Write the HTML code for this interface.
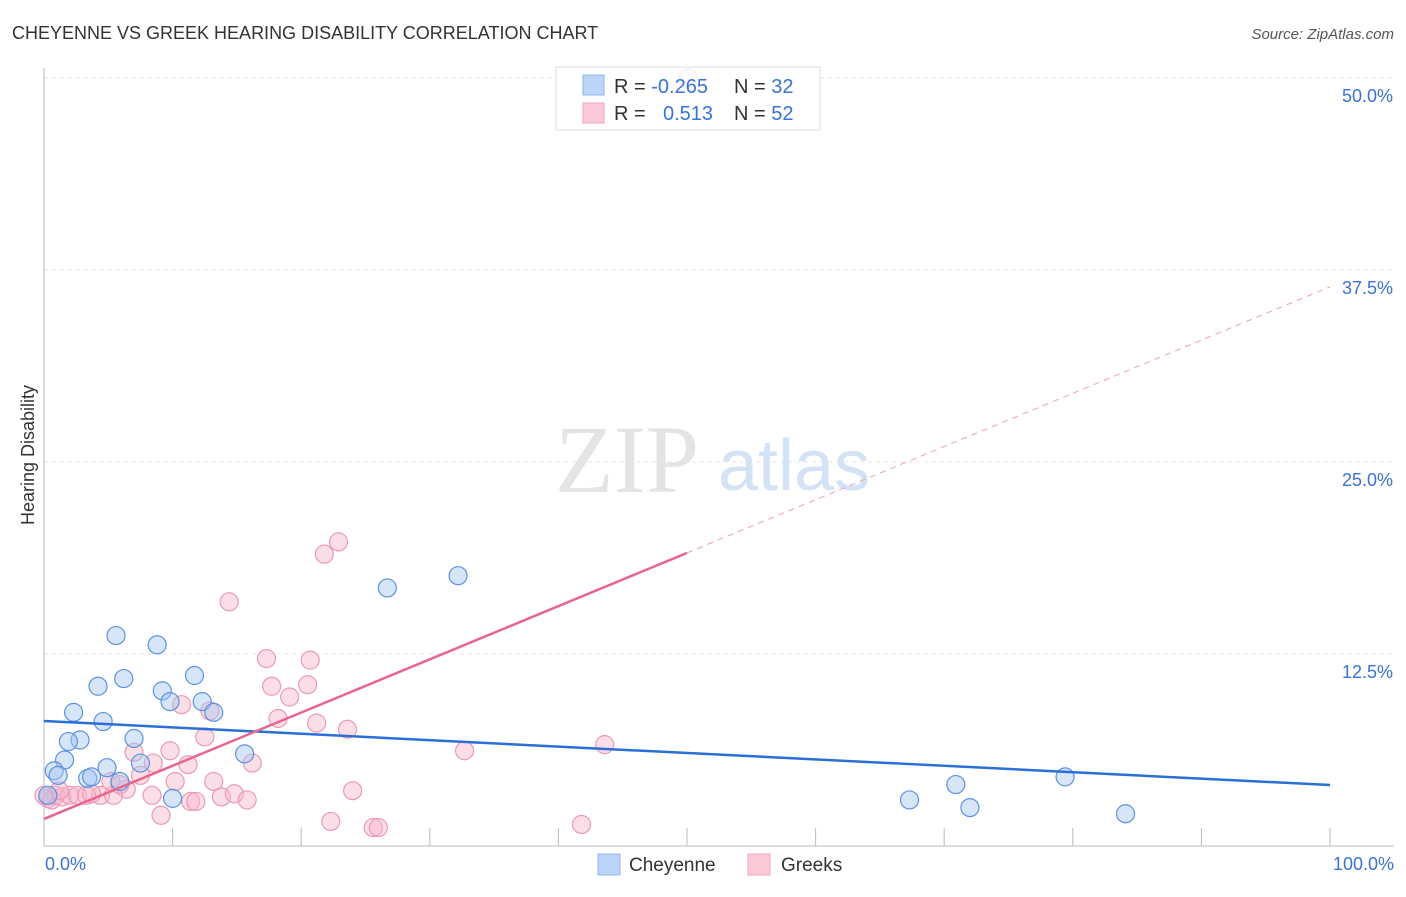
<!DOCTYPE html>
<html><head><meta charset="utf-8"><style>
body{margin:0;background:#fff;font-family:"Liberation Sans",sans-serif}
svg text{font-family:"Liberation Sans",sans-serif}
</style></head><body>
<svg id="c" width="1406" height="892" xmlns="http://www.w3.org/2000/svg">
<text x="12" y="39" font-size="18" fill="#333">CHEYENNE VS GREEK HEARING DISABILITY CORRELATION CHART</text>
<text x="1394" y="39" font-size="15" fill="#555" font-style="italic" text-anchor="end">Source: ZipAtlas.com</text>
<text x="555" y="492" font-size="96" fill="#e4e4e4" font-family="Liberation Serif" style="font-family:'Liberation Serif',serif">ZIP</text>
<text x="718" y="490" font-size="72" fill="#d3e2f5">atlas</text>
<text transform="translate(34,455) rotate(-90)" font-size="18" fill="#333" text-anchor="middle">Hearing Disability</text>
<g id="grid"></g><g id="pts"></g><g id="lines"></g>
<g>
<rect x="556" y="67" width="264" height="63" fill="rgba(255,255,255,0.85)" stroke="#ddd"/>
<rect x="583" y="75" width="21" height="20" fill="#bcd4f7" stroke="#8fb5ec"/>
<rect x="583" y="103" width="21" height="20" fill="#fcc9d8" stroke="#f0a5bd"/>
<text x="614" y="93" font-size="20" fill="#333">R = <tspan fill="#3a72d6">-0.265</tspan></text>
<text x="734" y="93" font-size="20" fill="#333">N = <tspan fill="#3a72d6">32</tspan></text>
<text x="614" y="120" font-size="20" fill="#333">R = <tspan x="663" fill="#3a72d6">0.513</tspan></text>
<text x="734" y="120" font-size="20" fill="#333">N = <tspan fill="#3a72d6">52</tspan></text>
</g>
<g>
<rect x="598" y="854" width="22" height="21" fill="#bcd4f7" stroke="#8fb5ec"/>
<text x="629" y="871" font-size="19" fill="#333">Cheyenne</text>
<rect x="748" y="854" width="22" height="21" fill="#fcc9d8" stroke="#f0a5bd"/>
<text x="781" y="871" font-size="19" fill="#333">Greeks</text>
</g>
</svg>
<script>
const yTicks=[12.5,25,37.5,50];
const yTickLabels=["12.5%","25.0%","37.5%","50.0%"];
const xTickLabels=["0.0%","100.0%"];
const blueX=[5.6,8.8,4.2,6.2,9.2,9.8,11.7,12.3,13.2,2.3,4.6,2.8,1.9,7.0,1.6,0.8,1.1,3.4,3.7,4.9,5.9,7.5,15.6,10.0,26.7,32.2,67.3,70.9,72.0,79.4,84.1,0.3];
const blueY=[13.7,13.1,10.4,10.9,10.1,9.4,11.1,9.4,8.7,8.7,8.1,6.9,6.8,7.0,5.6,4.9,4.6,4.4,4.5,5.1,4.2,5.4,6.0,3.1,16.8,17.6,3.0,4.0,2.5,4.5,2.1,3.3];
const pinkX=[22.9,21.8,14.4,17.3,20.7,17.7,20.5,19.1,10.7,12.9,18.2,21.2,23.6,12.5,7.0,9.8,8.5,11.2,16.2,7.5,5.2,10.2,13.2,6.4,4.4,5.4,8.4,11.4,11.8,13.8,14.8,15.8,24.0,9.1,22.3,25.6,26.0,41.8,32.7,43.6,50.1,0.3,0.6,0.9,1.4,2.0,2.6,3.3,3.7,1.2,0.0,5.9];
const pinkY=[19.8,19.0,15.9,12.2,12.1,10.4,10.5,9.7,9.2,8.8,8.3,8.0,7.6,7.1,6.1,6.2,5.4,5.3,5.4,4.6,4.2,4.2,4.2,3.7,3.3,3.3,3.3,2.9,2.9,3.2,3.4,3.0,3.6,2.0,1.6,1.2,1.2,1.4,6.2,6.6,50.0,3.1,3.0,3.3,3.2,3.3,3.3,3.3,3.4,3.6,3.3,4.0];
const blueTrend=[8.14,3.97];
const pinkTrend=[1.76,0.3464];
const X=v=>44+v*12.86, Y=v=>846-v*15.36;
const NS="http://www.w3.org/2000/svg";
function mk(t,a,p){const e=document.createElementNS(NS,t);for(const k in a)e.setAttribute(k,a[k]);p.appendChild(e);return e;}
const svg=document.getElementById('c'),grid=document.getElementById('grid'),pts=document.getElementById('pts'),lines=document.getElementById('lines');
yTicks.forEach((t,i)=>{
 const l=mk('line',{x1:44,x2:1394,y1:Y(t),y2:Y(t),stroke:'#e6e6e6','stroke-dasharray':'4,4'},grid);
 
 
 const tx=mk('text',{x:1393,y:Y(t)+24,'font-size':18,fill:'#3a72d6','text-anchor':'end'},grid);
 tx.textContent=yTickLabels[i];
 
 
});
let ax=mk('line',{x1:44,x2:44,y1:68,y2:846,stroke:'#bbb'},grid);


ax=mk('line',{x1:44,x2:1394,y1:846,y2:846,stroke:'#bbb'},grid);


for(let i=1;i<=10;i++){const t=mk('line',{x1:X(i*10),x2:X(i*10),y1:828,y2:846,stroke:'#bbb'},grid);
 
 }
[[0,'start',45],[100,'end',1394]].forEach((d,i)=>{const t=mk('text',{x:d[2],y:870,'font-size':18,fill:'#3a72d6','text-anchor':d[1]},grid);t.textContent=xTickLabels[i];
 
 });
pinkX.forEach((x,i)=>{const c=mk('circle',{cx:X(x),cy:Y(pinkY[i]),r:9,fill:'rgba(248,182,202,0.45)',stroke:'#eb9ab5','stroke-width':1.2},pts);
 
 });
blueX.forEach((x,i)=>{const c=mk('circle',{cx:X(x),cy:Y(blueY[i]),r:9,fill:'rgba(165,198,240,0.45)',stroke:'#5b93e0','stroke-width':1.2},pts);
 
 });
let l=mk('line',{x1:X(0),y1:Y(blueTrend[0]),x2:X(100),y2:Y(blueTrend[1]),stroke:'#2b6fd6','stroke-width':2.5},lines);


l=mk('line',{x1:X(0),y1:Y(pinkTrend[0]),x2:X(50),y2:Y(pinkTrend[0]+50*pinkTrend[1]),stroke:'#e8668e','stroke-width':2.5},lines);


l=mk('line',{x1:X(50),y1:Y(pinkTrend[0]+50*pinkTrend[1]),x2:X(100),y2:Y(pinkTrend[0]+100*pinkTrend[1]),stroke:'#eaa0b8','stroke-width':1,'stroke-dasharray':'6,5'},lines);


</script>
</body></html>
